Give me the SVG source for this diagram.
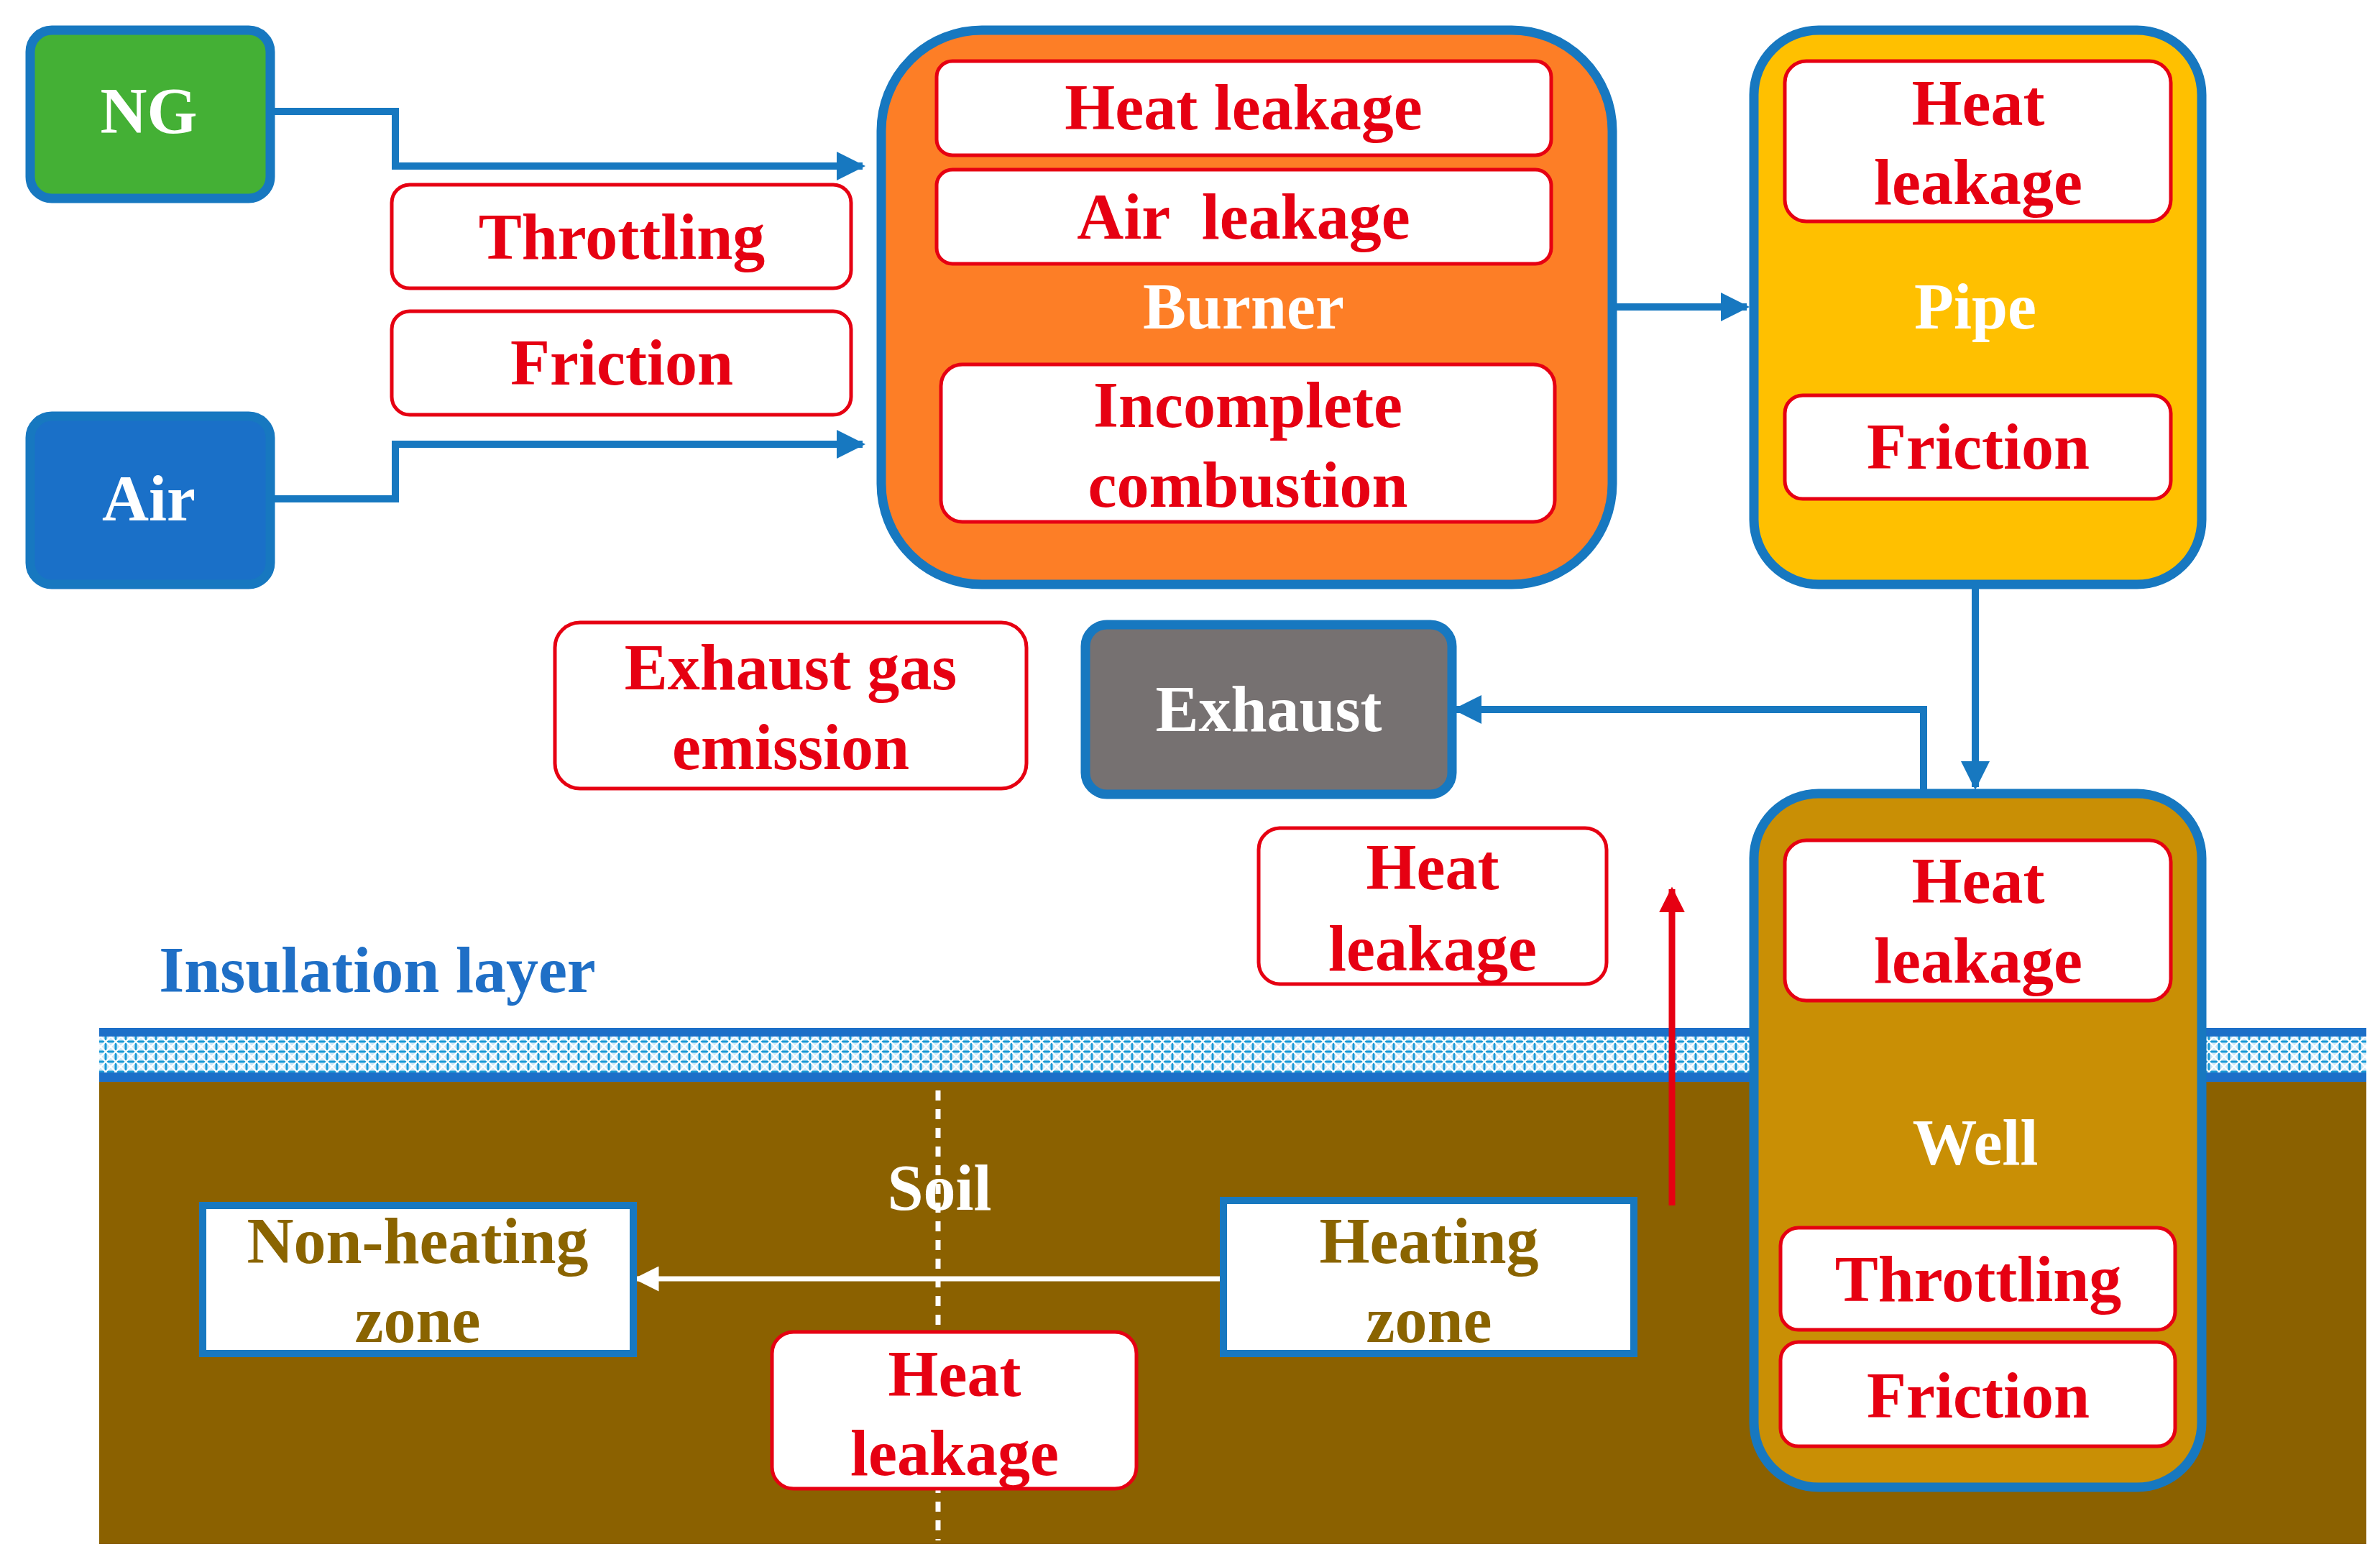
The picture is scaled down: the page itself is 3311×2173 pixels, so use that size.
<svg xmlns="http://www.w3.org/2000/svg" width="3311" height="2173" viewBox="0 0 3311 2173">
<style>
text{font-family:"Liberation Serif","Times New Roman",serif;font-weight:bold;font-size:90px;text-anchor:middle}
.r{fill:#e60012}.w{fill:#fff}.o{fill:#8a6400}
.lb{fill:#fff;stroke:#e60012;stroke-width:5}
.big{stroke:#1778c0;stroke-width:13}
.c{fill:none;stroke:#1778c0;stroke-width:10}
</style>
<defs>
<marker id="ab" viewBox="0 0 10 10" refX="9" refY="5" markerWidth="4" markerHeight="4" orient="auto" markerUnits="strokeWidth"><path d="M0,0L10,5L0,10z" fill="#1778c0"/></marker>
<marker id="ar" viewBox="0 0 10 10" refX="9" refY="5" markerWidth="4" markerHeight="4" orient="auto" markerUnits="strokeWidth"><path d="M0,0L10,5L0,10z" fill="#e60012"/></marker>
<marker id="aw" viewBox="0 0 10 10" refX="9" refY="5" markerWidth="5" markerHeight="5" orient="auto" markerUnits="strokeWidth"><path d="M0,0L10,5L0,10z" fill="#fff"/></marker>
<pattern id="hatch" width="14" height="14" patternUnits="userSpaceOnUse"><rect width="14" height="14" fill="#cfe9f8"/><path d="M0,7H14M7,0V14" stroke="#1a9ad6" stroke-width="3"/><path d="M0,0L14,14M14,0L0,14" stroke="#fff" stroke-width="2"/></pattern>
</defs>
<rect width="3311" height="2173" fill="#fff"/>
<g id="ground">
<rect x="138" y="1505" width="3154" height="643" fill="#8b6100"/>
<rect x="138" y="1430" width="3154" height="75" fill="#1c6fc8"/>
<rect x="138" y="1442" width="3154" height="50" fill="url(#hatch)"/>
<line x1="1305" y1="1517" x2="1305" y2="2143" stroke="#fff" stroke-width="7" stroke-dasharray="14,12"/>
<text x="1307" y="1683" class="w">Soil</text>
<text x="525" y="1380" fill="#1f6fc6">Insulation layer</text>
</g>
<g id="connectors">
<polyline class="c" points="376,155 550,155 550,231 1200,231" marker-end="url(#ab)"/>
<polyline class="c" points="376,694 550,694 550,618 1200,618" marker-end="url(#ab)"/>
<line class="c" x1="2243" y1="427" x2="2430" y2="427" marker-end="url(#ab)"/>
<line class="c" x1="2748" y1="813" x2="2748" y2="1095" marker-end="url(#ab)"/>
<polyline class="c" points="2676,1101 2676,987 2025,987" marker-end="url(#ab)"/>
<line x1="2326" y1="1677" x2="2326" y2="1237" stroke="#e60012" stroke-width="9" marker-end="url(#ar)"/>
<line x1="1702" y1="1779" x2="885" y2="1779" stroke="#fff" stroke-width="7" marker-end="url(#aw)"/>
</g>
<g id="ng"><rect class="big" x="42" y="42" width="334" height="234" rx="30" fill="#44b035"/><text x="207" y="185" class="w">NG</text></g>
<g id="air"><rect class="big" x="42" y="579" width="334" height="234" rx="30" fill="#1a70c8"/><text x="207" y="724" class="w">Air</text></g>
<g id="throttling1"><rect class="lb" x="545" y="257" width="639" height="144" rx="25"/><text x="865" y="360" class="r">Throttling</text></g>
<g id="friction1"><rect class="lb" x="545" y="433" width="639" height="144" rx="25"/><text x="865" y="535" class="r">Friction</text></g>
<g id="burner">
<rect class="big" x="1226" y="42" width="1017" height="771" rx="140" fill="#fd7e26"/>
<rect class="lb" x="1303" y="85" width="855" height="131" rx="22"/><text x="1730" y="180" class="r">Heat leakage</text>
<rect class="lb" x="1303" y="236" width="855" height="131" rx="22"/><text x="1730" y="332" class="r" xml:space="preserve">Air  leakage</text>
<text x="1730" y="457" class="w">Burner</text>
<rect class="lb" x="1309" y="507" width="854" height="219" rx="30"/><text x="1736" y="594" class="r">Incomplete</text><text x="1736" y="705" class="r">combustion</text>
</g>
<g id="pipe">
<rect class="big" x="2440" y="42" width="623" height="771" rx="90" fill="#ffc000"/>
<rect class="lb" x="2483" y="85" width="537" height="223" rx="30"/><text x="2752" y="174" class="r">Heat</text><text x="2752" y="284" class="r">leakage</text>
<text x="2748" y="457" class="w">Pipe</text>
<rect class="lb" x="2483" y="550" width="537" height="144" rx="25"/><text x="2752" y="652" class="r">Friction</text>
</g>
<g id="well">
<rect class="big" x="2440" y="1104" width="623" height="965" rx="90" fill="#c98f05"/>
<rect class="lb" x="2483" y="1169" width="537" height="223" rx="30"/><text x="2752" y="1256" class="r">Heat</text><text x="2752" y="1367" class="r">leakage</text>
<text x="2748" y="1620" class="w">Well</text>
<rect class="lb" x="2477" y="1708" width="549" height="142" rx="25"/><text x="2752" y="1810" class="r">Throttling</text>
<rect class="lb" x="2477" y="1867" width="549" height="145" rx="25"/><text x="2752" y="1972" class="r">Friction</text>
</g>
<g id="exhaust"><rect class="big" x="1510" y="869" width="510" height="236" rx="30" fill="#767171"/><text x="1765" y="1017" class="w">Exhaust</text></g>
<g id="exhaustgas"><rect class="lb" x="772" y="866" width="656" height="231" rx="35"/><text x="1100" y="959" class="r">Exhaust gas</text><text x="1100" y="1070" class="r">emission</text></g>
<g id="heatleak_mid"><rect class="lb" x="1751" y="1152" width="484" height="217" rx="30"/><text x="1993" y="1237" class="r">Heat</text><text x="1993" y="1350" class="r">leakage</text></g>
<g id="nonheating"><rect x="282" y="1677" width="599" height="206" fill="#fff" stroke="#1778c0" stroke-width="10"/><text x="581" y="1757" class="o">Non-heating</text><text x="581" y="1867" class="o">zone</text></g>
<g id="heating"><rect x="1702" y="1670" width="571" height="213" fill="#fff" stroke="#1778c0" stroke-width="10"/><text x="1988" y="1757" class="o">Heating</text><text x="1988" y="1867" class="o">zone</text></g>
<g id="heatleak_bottom"><rect class="lb" x="1074" y="1853" width="507" height="218" rx="30"/><text x="1328" y="1942" class="r">Heat</text><text x="1328" y="2052" class="r">leakage</text></g>
</svg>
